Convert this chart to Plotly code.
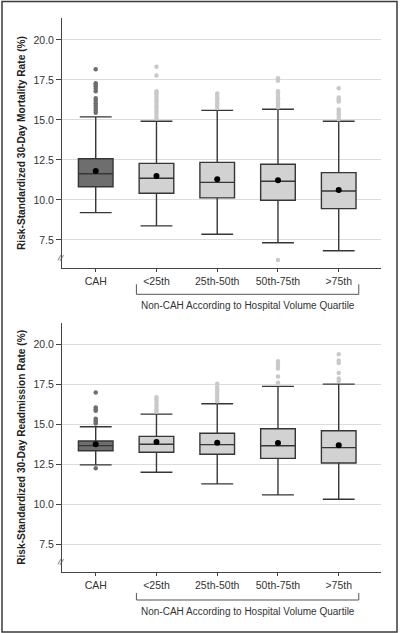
import plotly.graph_objects as go

categories = ["CAH", "<25th", "25th-50th", "50th-75th", ">75th"]
tick_vals_y = [7.5, 10.0, 12.5, 15.0, 17.5, 20.0]
tick_text_y = ["7.5", "10.0", "12.5", "15.0", "17.5", "20.0"]

# Mortality (top panel)
mort_q1 = [10.83, 10.42, 10.13, 9.98, 9.46]
mort_median = [11.64, 11.36, 11.10, 11.17, 10.56]
mort_q3 = [12.58, 12.29, 12.35, 12.23, 11.71]
mort_lower = [9.21, 8.38, 7.86, 7.33, 6.83]
mort_upper = [15.19, 14.92, 15.60, 15.67, 14.92]
mort_mean = [11.81, 11.50, 11.29, 11.23, 10.63]
mort_outliers = [
    [18.17, 17.3, 17.2, 17.1, 16.95, 16.8, 16.35, 16.2, 16.05, 15.9, 15.75, 15.6, 15.45],
    [18.33, 17.77, 16.8, 16.7, 16.6, 16.45, 16.3, 16.15, 16.0, 15.85, 15.7, 15.55, 15.4, 15.25, 15.1],
    [16.65, 16.5, 16.35, 16.2, 16.05, 15.9, 15.75],
    [17.6, 17.45, 16.8, 16.65, 16.5, 16.35, 16.2, 16.05, 15.9, 15.8, 6.25],
    [16.98, 16.4, 16.28, 16.15, 15.65, 15.5, 15.35, 15.2, 15.05],
]

# Readmission (bottom panel)
readm_q1 = [13.35, 13.25, 13.13, 12.87, 12.58]
readm_median = [13.67, 13.75, 13.73, 13.66, 13.54]
readm_q3 = [13.96, 14.25, 14.44, 14.73, 14.60]
readm_lower = [12.46, 12.00, 11.27, 10.58, 10.31]
readm_upper = [14.85, 15.64, 16.29, 17.38, 17.52]
readm_mean = [13.75, 13.89, 13.85, 13.83, 13.69]
readm_outliers = [
    [17.0, 16.05, 15.95, 15.85, 15.35, 15.25, 15.15, 15.05, 12.25],
    [16.7, 16.55, 16.4, 16.25, 16.1, 15.95, 15.8],
    [17.55, 17.35, 17.2, 17.05, 16.9, 16.75, 16.6, 16.45],
    [18.95, 18.8, 18.65, 18.5, 18.0, 17.6],
    [19.4, 19.0, 18.85, 18.22, 17.87, 17.72],
]

box_fill = ["#6e6e6e", "#d2d2d2", "#d2d2d2", "#d2d2d2", "#d2d2d2"]
out_color = ["#6e6e6e", "#c9c9c9", "#c9c9c9", "#c9c9c9", "#c9c9c9"]

W, H = 400, 633
ML, MR, MT, MB = 62, 19, 18, 61
PW = W - ML - MR
PH = H - MT - MB


def py(ypix):
    return (H - MB - ypix) / PH


def px(xpix):
    return (xpix - ML) / PW


fig = go.Figure()

panels = [
    ("x", "y", mort_q1, mort_median, mort_q3, mort_lower, mort_upper, mort_mean, mort_outliers),
    ("x2", "y2", readm_q1, readm_median, readm_q3, readm_lower, readm_upper, readm_mean, readm_outliers),
]

for xa, ya, q1, med, q3, lo, hi, mn, outs in panels:
    for i, cat in enumerate(categories):
        fig.add_trace(go.Box(
            x=[i], q1=[q1[i]], median=[med[i]], q3=[q3[i]],
            lowerfence=[lo[i]], upperfence=[hi[i]],
            width=0.57, whiskerwidth=0.92,
            fillcolor=box_fill[i],
            line=dict(color="#363636", width=1.4),
            boxpoints=False, showlegend=False, hoverinfo="skip",
            xaxis=xa, yaxis=ya,
        ))
        fig.add_trace(go.Scatter(
            x=[i] * len(outs[i]), y=outs[i], mode="markers",
            marker=dict(color=out_color[i], size=4.5),
            showlegend=False, hoverinfo="skip", xaxis=xa, yaxis=ya,
        ))
    fig.add_trace(go.Scatter(
        x=list(range(len(categories))), y=mn, mode="markers",
        marker=dict(color="#000000", size=6),
        showlegend=False, hoverinfo="skip", xaxis=xa, yaxis=ya,
    ))

font = dict(family="Liberation Sans, Arial, sans-serif", size=10.5, color="#333333")
top_dom = [py(268), 1.0]
bot_dom = [0.0, py(322.7)]
xrange = [-0.555, 4.696]
yrange = [5.75, 21.37]

xaxis_common = dict(
    range=xrange, tickmode="array", tickvals=list(range(5)), ticktext=categories,
    showgrid=False, zeroline=False, showline=True, linecolor="#444444", linewidth=1,
    ticks="outside", ticklen=3, tickcolor="#444444", tickfont=font, fixedrange=True,
)
yaxis_common = dict(
    range=yrange, tickmode="array", tickvals=tick_vals_y, ticktext=tick_text_y,
    showgrid=True, gridcolor="#dcdcdc", gridwidth=1, zeroline=False,
    showline=True, linecolor="#444444", linewidth=1,
    ticks="outside", ticklen=5, tickcolor="#444444", tickfont=font, fixedrange=True,
)

title_font = dict(family="Liberation Sans, Arial, sans-serif", size=10.2, color="#222222")
fig.update_layout(
    width=W, height=H,
    margin=dict(l=ML, r=MR, t=MT, b=MB),
    paper_bgcolor="white", plot_bgcolor="white",
    xaxis=dict(**xaxis_common, anchor="y"),
    xaxis2=dict(**xaxis_common, anchor="y2"),
    yaxis=dict(**yaxis_common, domain=top_dom, anchor="x",
               title=dict(text="<b>Risk-Standardized 30-Day Mortality Rate (%)</b>",
                          font=title_font, standoff=5)),
    yaxis2=dict(**yaxis_common, domain=bot_dom, anchor="x2",
                title=dict(text="<b>Risk-Standardized 30-Day Readmission Rate (%)</b>",
                           font=title_font, standoff=5)),
)

shapes = []
annotations = []
# brackets and group labels
for xref, ybar, yend, ytxt in [("x", 294.3, 284.3, 305), ("x2", 600, 593, 611.7)]:
    shapes.append(dict(type="path", xref=xref, yref="paper",
                       path=f"M 0.67 {py(yend)} L 0.67 {py(ybar)} L 4.33 {py(ybar)} L 4.33 {py(yend)}",
                       line=dict(color="#555555", width=1)))
    annotations.append(dict(text="Non-CAH According to Hospital Volume Quartile",
                            xref=xref, yref="paper", x=2.5, y=py(ytxt),
                            showarrow=False, font=dict(family="Liberation Sans, Arial, sans-serif",
                                                       size=10, color="#333333"),
                            xanchor="center", yanchor="middle"))
# axis break marks
for yref_ax in ["y", "y2"]:
    annotations.append(dict(text="//", xref="paper", yref=yref_ax, x=px(61), y=6.35,
                            showarrow=False, textangle=15,
                            font=dict(family="Liberation Sans, Arial, sans-serif", size=9, color="#555555"),
                            xanchor="center", yanchor="middle"))
# outer frame
shapes.append(dict(type="rect", xref="paper", yref="paper",
                   x0=px(2), x1=px(397), y0=py(632), y1=py(1.5),
                   line=dict(color="#3a3a3a", width=1.5)))

fig.update_layout(shapes=shapes, annotations=annotations)

fig.write_html("out.html", config={"displayModeBar": False},
               post_script="document.body.style.margin='0';document.body.style.padding='0';")
